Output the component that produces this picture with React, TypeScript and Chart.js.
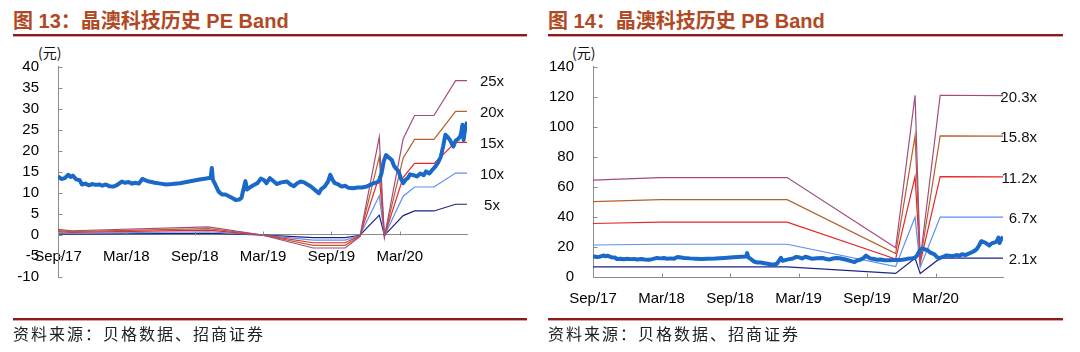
import React, { useEffect, useRef } from "react";
import { Chart, registerables } from "chart.js";

Chart.register(...registerables);

// ---------- data ----------
const xTickMonths = [0, 6, 12, 18, 24, 30];
const xTickLabels = ["Sep/17", "Mar/18", "Sep/18", "Mar/19", "Sep/19", "Mar/20"];
const xMaxMonth = 35.9;

// share price (元), months since Sep 2017
const priceMonths = [
  0.0, 0.3, 0.6, 0.9, 1.1, 1.3, 1.6, 1.9, 2.1, 2.4, 2.7, 3.0, 3.3, 3.6, 3.9, 4.2, 4.5, 4.9,
  5.2, 5.6, 5.9, 6.2, 6.5, 6.8, 7.1, 7.4, 7.7, 8.0, 8.5, 9.0, 9.5, 10.0, 10.7, 11.5, 12.3,
  13.0, 13.4, 13.5, 13.6, 13.8, 14.1, 14.4, 14.7, 15.0, 15.3, 15.6, 15.9, 16.1, 16.3, 16.45,
  16.6, 16.9, 17.2, 17.5, 17.8, 18.1, 18.3, 18.6, 18.9, 19.2, 19.6, 20.1, 20.4, 20.7, 21.0,
  21.3, 21.6, 21.9, 22.2, 22.6, 22.9, 23.1, 23.4, 23.7, 23.9, 24.1, 24.3, 24.6, 24.9, 25.2,
  25.5, 25.9, 26.3, 26.7, 27.1, 27.4, 27.7, 28.0, 28.2, 28.4, 28.6, 28.8, 29.0, 29.3, 29.5,
  29.7, 29.9, 30.1, 30.3, 30.5, 30.7, 30.9, 31.2, 31.5, 31.8, 32.1, 32.3, 32.6, 32.9, 33.1,
  33.4, 33.6, 33.8, 34.0, 34.2, 34.4, 34.6, 34.7, 34.9, 35.1, 35.3, 35.4, 35.5, 35.6, 35.7,
  35.8, 35.9,
];
const priceValues = [
  13.9, 13.3, 13.5, 14.3, 13.8, 14.1, 13.2, 13.0, 12.0, 12.2, 11.8, 12.1, 11.9, 12.0, 11.7, 12.0, 11.6, 11.5,
  11.9, 12.7, 12.4, 12.6, 12.2, 12.4, 12.2, 13.3, 13.0, 12.7, 12.4, 12.2, 12.0, 12.1, 12.3, 12.7, 13.1,
  13.4, 13.6, 15.9, 13.1, 12.0, 10.3, 9.6, 9.6, 9.2, 8.8, 8.3, 8.4, 8.8, 11.1, 12.8,
  10.8, 11.4, 11.9, 12.3, 13.4, 13.0, 12.3, 13.5, 12.8, 12.1, 12.5, 12.7, 12.0, 11.6, 12.3,
  12.7, 12.5, 12.0, 11.5, 10.6, 9.9, 10.9, 11.5, 12.7, 14.3, 13.1, 12.3, 12.0, 11.5, 11.7,
  11.2, 11.1, 11.3, 11.3, 11.5, 11.9, 12.3, 12.5, 12.9, 14.7, 17.6, 19.0, 18.5, 17.8, 16.4,
  15.7, 15.1, 13.4, 12.3, 13.1, 13.5, 14.4, 14.2, 13.9, 14.6, 14.2, 15.1, 14.6, 15.6, 16.2,
  17.4, 18.6, 21.0, 23.8, 23.3, 22.6, 21.5, 21.0, 22.4, 22.8, 23.4, 24.5, 26.2, 22.6, 24.6,
  25.5, 26.9,
];

// PE band lines
const peMonths = [0, 1.2, 13.2, 17.8, 22.4, 25.2, 26.5, 28.2, 28.65, 30.3, 31.3, 33.0, 34.9, 35.9];
const pe25x = [1.3, 1.0, 1.9, 0.05, -3.1, -3.1, -0.4, 23.3, -0.5, 22.9, 28.4, 28.4, 36.7, 36.7];
const pe20x = [1.04, 0.8, 1.52, 0.04, -2.48, -2.48, -0.3, 18.6, -0.4, 18.3, 22.7, 22.7, 29.4, 29.4];
const pe15x = [0.78, 0.6, 1.14, 0.03, -1.86, -1.86, -0.23, 14.0, -0.3, 13.7, 17.0, 17.0, 22.0, 22.0];
const pe10x = [0.52, 0.4, 0.76, 0.02, -1.24, -1.24, -0.15, 9.3, -0.2, 9.2, 11.4, 11.4, 14.7, 14.7];
const pe5x = [0.26, 0.2, 0.38, 0.01, -0.62, -0.62, -0.08, 4.7, -0.1, 4.6, 5.7, 5.7, 7.3, 7.3];
const peBandLabels = ["25x", "20x", "15x", "10x", "5x"];
const peYTicks = { min: -10, max: 40, step: 5 };

// PB band lines
const pbMonths = [0, 5.9, 17.0, 26.5, 28.2, 28.65, 30.4, 35.9];
const pb203x = [64.5, 66.2, 66.2, 19.5, 121.0, 11.5, 121.0, 120.7];
const pb158x = [50.2, 51.5, 51.5, 15.6, 94.0, 10.5, 94.0, 93.8];
const pb112x = [35.6, 36.5, 36.5, 12.0, 66.8, 9.5, 66.8, 66.6];
const pb67x = [21.3, 21.8, 21.8, 7.0, 39.9, 6.5, 39.9, 39.8];
const pb21x = [6.7, 6.8, 6.8, 2.4, 12.5, 2.4, 12.5, 12.5];
const pbBandLabels = ["20.3x", "15.8x", "11.2x", "6.7x", "2.1x"];
const pbYTicks = { min: 0, max: 140, step: 20 };

// ---------- styles ----------
const bandColors = ["#A24C7E", "#B4612C", "#E8272B", "#5F8FF0", "#1F2482"];
const priceColor = "#1A68C8";
const axisColor = "#8C8C8C";
const FONT = '"Liberation Sans", Arial, sans-serif';
const TITLE_COLOR = "#B04A25";
const RULE_COLOR = "#8E1B1B";

const xy = (xs: number[], ys: number[]) => xs.map((x, i) => ({ x, y: ys[i] }));

const innerTicks = {
  id: "innerTicks",
  afterDraw(chart: any) {
    const { ctx } = chart;
    const xs = chart.scales.x;
    const ys = chart.scales.y;
    const left = Math.round(chart.chartArea.left) + 0.5;
    const axisY =
      chart.options.plugins.innerTicks?.zeroAxis
        ? Math.round(ys.getPixelForValue(0)) + 0.5
        : Math.round(chart.chartArea.bottom) + 0.5;
    ctx.save();
    ctx.strokeStyle = axisColor;
    ctx.lineWidth = 1;
    ctx.beginPath();
    ys.ticks.forEach((t: any) => {
      const py = Math.round(ys.getPixelForValue(t.value)) + 0.5;
      ctx.moveTo(left, py);
      ctx.lineTo(left + 4, py);
    });
    xs.ticks.forEach((t: any) => {
      const px = Math.round(xs.getPixelForValue(t.value)) + 0.5;
      ctx.moveTo(px, axisY);
      ctx.lineTo(px, axisY - 4);
    });
    ctx.stroke();
    ctx.restore();
  },
};

const endLabels = {
  id: "endLabels",
  afterDatasetsDraw(chart: any, _args: any, opts: any) {
    const { ctx } = chart;
    chart.data.datasets.forEach((ds: any, i: number) => {
      if (!ds.endLabel) return;
      const meta = chart.getDatasetMeta(i);
      const pt = meta.data[meta.data.length - 1];
      ctx.save();
      ctx.font = `15px ${FONT}`;
      ctx.fillStyle = "#111";
      ctx.textAlign = opts.align;
      ctx.textBaseline = "middle";
      ctx.fillText(ds.endLabel, pt.x + opts.dx, pt.y + opts.dy);
      ctx.restore();
    });
  },
};

function buildConfig(kind: "pe" | "pb"): any {
  const isPE = kind === "pe";
  const months = isPE ? peMonths : pbMonths;
  const bands = isPE ? [pe25x, pe20x, pe15x, pe10x, pe5x] : [pb203x, pb158x, pb112x, pb67x, pb21x];
  const labels = isPE ? peBandLabels : pbBandLabels;
  const yt = isPE ? peYTicks : pbYTicks;

  const datasets: any[] = [
    {
      data: xy(priceMonths, priceValues),
      borderColor: priceColor,
      borderWidth: 4,
      pointRadius: 0,
      tension: 0,
      borderJoinStyle: "round",
    },
    ...bands.map((b, i) => ({
      data: xy(months, b),
      borderColor: bandColors[i],
      borderWidth: 1.2,
      pointRadius: 0,
      tension: 0,
      endLabel: labels[i],
    })),
  ];

  const tickFont = { family: FONT, size: 15 };

  return {
    type: "line",
    data: { datasets },
    plugins: [innerTicks, endLabels],
    options: {
      animation: false,
      responsive: false,
      events: [],
      layout: {
        padding: isPE
          ? { top: 66.7, right: 73, bottom: 75, left: 0 }
          : { top: 66.7, right: 77, bottom: 0, left: 0 },
      },
      plugins: {
        legend: { display: false },
        tooltip: { enabled: false },
        innerTicks: { zeroAxis: isPE },
        endLabels: isPE ? { align: "center", dx: 25, dy: 1.5 } : { align: "right", dx: 34, dy: 2 },
      },
      scales: {
        x: {
          type: "linear",
          min: 0,
          max: xMaxMonth,
          position: isPE ? { y: 0 } : "bottom",
          grid: { display: false, drawTicks: false },
          border: { display: true, color: axisColor, width: 1 },
          afterBuildTicks: (s: any) => {
            s.ticks = xTickMonths.map((v) => ({ value: v }));
          },
          afterFit: (s: any) => {
            if (!isPE) s.height = 75;
          },
          ticks: {
            autoSkip: false,
            maxRotation: 0,
            minRotation: 0,
            padding: 13,
            color: "#000",
            font: tickFont,
            callback: (v: number) => xTickLabels[xTickMonths.indexOf(v)] ?? "",
          },
        },
        y: {
          type: "linear",
          min: yt.min,
          max: yt.max,
          grid: { display: false, drawTicks: false },
          border: { display: true, color: axisColor, width: 1 },
          afterFit: (s: any) => {
            s.width = isPE ? 58 : 53;
          },
          ticks: {
            stepSize: yt.step,
            padding: 19,
            color: "#000",
            font: tickFont,
          },
        },
      },
    },
  };
}

function Panel({ kind, left }: { kind: "pe" | "pb"; left: number }) {
  const ref = useRef<HTMLCanvasElement | null>(null);
  useEffect(() => {
    if (!ref.current) return;
    const chart = new Chart(ref.current, buildConfig(kind));
    return () => chart.destroy();
  }, [kind]);
  return (
    <canvas
      ref={ref}
      width={540}
      height={352}
      style={{ position: "absolute", left, top: 0, width: 540, height: 352 }}
    />
  );
}

const titleStyle: React.CSSProperties = {
  position: "absolute",
  top: 8,
  fontFamily: '"Liberation Sans", Arial, "Noto Sans CJK SC", sans-serif',
  fontWeight: 700,
  fontSize: 20,
  lineHeight: "26px",
  color: TITLE_COLOR,
  whiteSpace: "nowrap",
};
const ruleStyle = (left: number, top: number, width: number): React.CSSProperties => ({
  position: "absolute",
  left,
  top,
  width,
  height: 2,
  background: RULE_COLOR,
  boxShadow: "0 1px 0 #d9a0a0",
});
const unitStyle = (left: number): React.CSSProperties => ({
  position: "absolute",
  left,
  top: 42,
  fontFamily: '"Noto Sans CJK SC", sans-serif',
  fontSize: 14,
  lineHeight: "20px",
  color: "#111",
});
const sourceStyle = (left: number): React.CSSProperties => ({
  position: "absolute",
  left,
  top: 322,
  fontFamily: '"Noto Sans CJK SC", sans-serif',
  fontSize: 16,
  letterSpacing: 2,
  lineHeight: "22px",
  color: "#222",
  whiteSpace: "nowrap",
});

export default function App() {
  return (
    <div
      style={{
        position: "absolute",
        left: 0,
        top: 0,
        width: 1080,
        height: 352,
        background: "#fff",
        overflow: "hidden",
      }}
    >
      <div style={{ ...titleStyle, left: 13 }}>图 13：晶澳科技历史 PE Band</div>
      <div style={{ ...titleStyle, left: 548 }}>图 14：晶澳科技历史 PB Band</div>
      <div style={ruleStyle(13, 34, 514)} />
      <div style={ruleStyle(548, 34, 515)} />
      <div style={unitStyle(38)}>(元)</div>
      <div style={unitStyle(572)}>(元)</div>
      <Panel kind="pe" left={0} />
      <Panel kind="pb" left={540} />
      <div style={ruleStyle(13, 318, 514)} />
      <div style={ruleStyle(548, 318, 515)} />
      <div style={sourceStyle(13)}>资料来源：贝格数据、招商证券</div>
      <div style={sourceStyle(548)}>资料来源：贝格数据、招商证券</div>
    </div>
  );
}
